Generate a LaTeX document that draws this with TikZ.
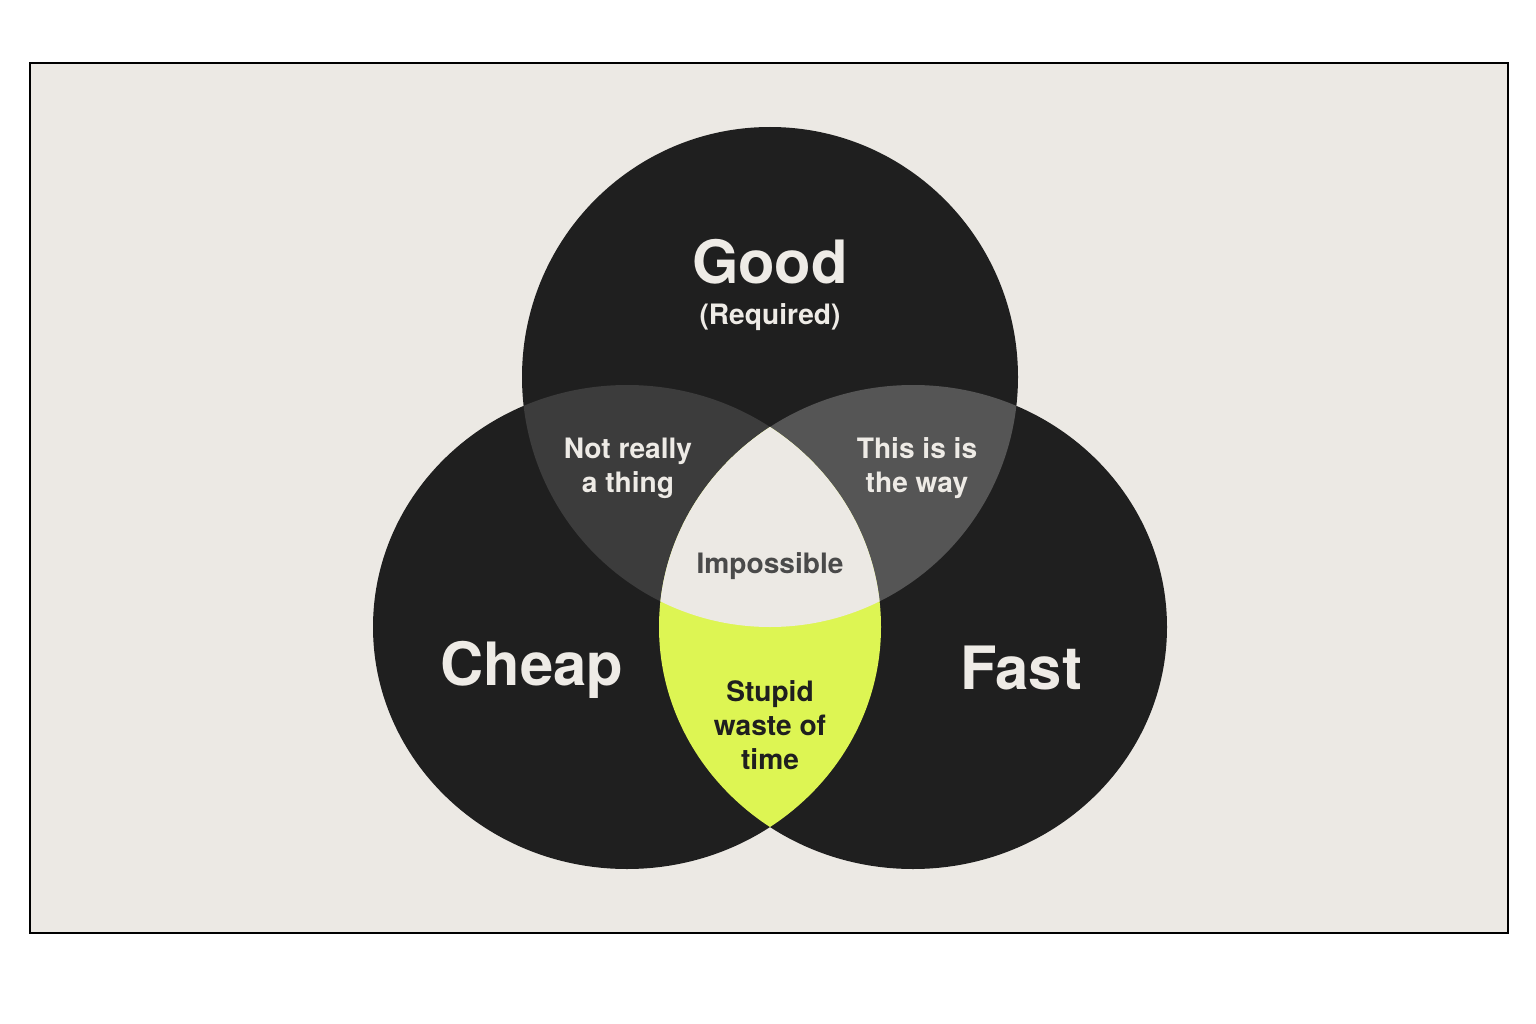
\documentclass[tikz,border=0pt]{standalone}
\usepackage{fontspec}
\setmainfont{TeX Gyre Heros}
\usetikzlibrary{positioning}
\tikzset{
  every node/.style={
    inner sep=0pt,
    align=center
  },
  bigtxt/.style={
    font=\fontsize{34}{36}\selectfont\bfseries,
    text=txtlight
  },
  smalltxt/.style={
    font=\fontsize{16}{19.4}\selectfont\bfseries,
    text=txtlight
  }
}

\begin{document}
\begin{tikzpicture}[x=0.02cm,y=-0.02cm]

    % 色
    \definecolor{bgbeige}{HTML}{ECE9E4}
    \definecolor{circdark}{HTML}{1F1F1F}
    \definecolor{graya}{HTML}{3C3C3C}
    \definecolor{grayb}{HTML}{555555}
    \definecolor{lime}{HTML}{DDF553}
    \definecolor{txtlight}{HTML}{EEEBE6}
    \definecolor{txtgray}{HTML}{4A4A4A}

    % パラメータ
    \def\goodc{(770,377) ellipse (248 and 250)}
    \def\cheapc{(627,627) ellipse (254 and 242)}
    \def\fastc{(913,627) ellipse (254 and 242)}

    % 背景
    \useasboundingbox (0,0) rectangle (1536,1024);
    \fill[white] (0,0) rectangle (1536,1024);
    \draw[fill=bgbeige,line width=0.8pt] (30,63) rectangle (1508,933);

    % 円
    \fill[circdark] \goodc;
    \fill[circdark] \cheapc;
    \fill[circdark] \fastc;

    % 重なり
    \begin{scope}
        \clip \goodc;
        \fill[graya] \cheapc;
        \fill[grayb] \fastc;
    \end{scope}
    \begin{scope}
        \clip \cheapc;
        \fill[lime] \fastc;
    \end{scope}
    \begin{scope}
        \clip \goodc;
        \clip \cheapc;
        \fill[bgbeige] \fastc;
    \end{scope}

    % ラベル
    \node[bigtxt] (good) at (770,262) {Good};
    \node[smalltxt] (req) at (770,317) {(Required)};
    \node[bigtxt] (cheap) at (532,670) {Cheap};
    \node[bigtxt] (fast) at (1021,668) {Fast};
    \node[smalltxt] (notthing) at (628,468) {Not really\\a thing};
    \node[smalltxt] (theway) at (917,468) {This is is\\the way};
    \node[smalltxt,text=txtgray] (impossible) at (770,566) {Impossible};
    \node[smalltxt,text=circdark] (waste) at (770,725) {Stupid\\waste of\\time};

\end{tikzpicture}
\end{document}
